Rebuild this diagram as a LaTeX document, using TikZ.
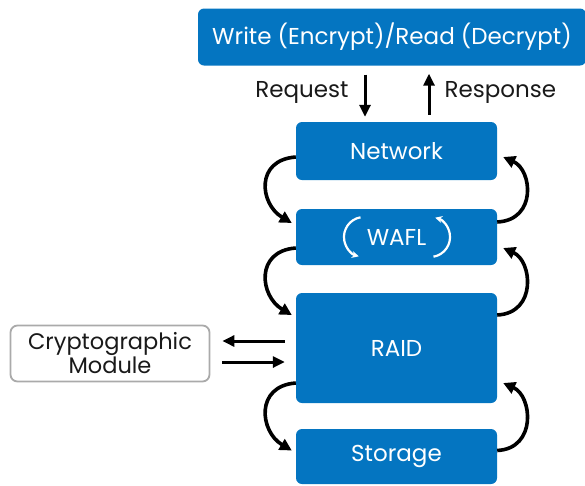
\documentclass[tikz,border=0pt]{standalone}
\usepackage{fontspec}
\setmainfont{Poppins}
\usetikzlibrary{arrows.meta}
\definecolor{cLayer}{RGB}{4,117,193}
\definecolor{cEdge}{RGB}{170,170,170}
\definecolor{cText}{RGB}{25,25,25}
\tikzset{
  layer/.style={fill=cLayer,rounded corners=6,text=white,minimum width=201,font=\fontsize{23}{26}\selectfont},
  flow/.style={line width=3,-{Triangle[length=12,width=11]}},
  cyc/.style={line width=3.6,-{Triangle[length=12,width=12]}},
  spin/.style={white,line width=2.2,-{Stealth[length=7,width=7]}},
  tag/.style={text=cText,font=\fontsize{23}{26}\selectfont}
}
\begin{document}
\begin{tikzpicture}[x=1pt,y=-1pt]
\useasboundingbox (0,0) rectangle (585,485);
\node[layer,minimum width=388,minimum height=57] (io) at (392,37) {Write (Encrypt)/Read (Decrypt)};
\node[layer,minimum height=58] (net) at (396.5,151) {Network};
\node[layer,minimum height=56] (wafl) at (396.5,237) {WAFL};
\node[layer,minimum height=110] (raid) at (396.5,348) {RAID};
\node[layer,minimum height=55] (store) at (396.5,456.5) {Storage};
\node[draw=cEdge,line width=1.8,rounded corners=7,minimum width=199,minimum height=56,
  align=center,tag,font=\fontsize{22.5}{24}\selectfont] (crypto) at (110,353.5) {Cryptographic\\Module};
% request / response
\coordinate (rq) at (365,0);
\coordinate (rs) at (429,0);
\draw[flow,shorten <=9,shorten >=5] (io.south -| rq) -- (net.north -| rq);
\draw[flow,shorten <=7,shorten >=8] (net.north -| rs) -- (io.south -| rs);
\node[tag,anchor=east] (reqtxt) at (352,92) {Request};
\node[tag,anchor=west] (restxt) at (441,92) {Response};
% raid <-> crypto
\coordinate (k1) at (0,341);
\coordinate (k2) at (0,362);
\draw[flow,shorten <=11,shorten >=12] (raid.west |- k1) -- (crypto.east |- k1);
\draw[flow,shorten <=12,shorten >=11] (crypto.east |- k2) -- (raid.west |- k2);
% down the left side
\draw[cyc] ([yshift=-6]net.west) .. controls +(-41,3) and +(-32,-19) .. ([xshift=-4,yshift=14]wafl.west);
\draw[cyc] ([yshift=-11]wafl.west) .. controls +(-41,3) and +(-32,-19) .. ([xshift=-4,yshift=33]raid.west);
\draw[cyc] ([yshift=-35]raid.west) .. controls +(-41,3) and +(-32,-19) .. ([xshift=-4,yshift=6]store.west);
% up the right side
\draw[cyc] ([yshift=15]wafl.east) .. controls +(40,-2) and +(29,13) .. ([xshift=6,yshift=-6]net.east);
\draw[cyc] ([yshift=33]raid.east) .. controls +(40,-2) and +(29,13) .. ([xshift=6,yshift=-11]wafl.east);
\draw[cyc] ([yshift=6]store.east) .. controls +(40,-2) and +(29,13) .. ([xshift=6,yshift=-35]raid.east);
% turning marks round WAFL
\draw[spin] ([xshift=-36,yshift=19.7]wafl.center) arc[start angle=-100,end angle=-255,radius=20];
\draw[spin] ([xshift=37,yshift=-19.7]wafl.center) arc[start angle=80,end angle=-75,radius=20];
\end{tikzpicture}
\end{document}
